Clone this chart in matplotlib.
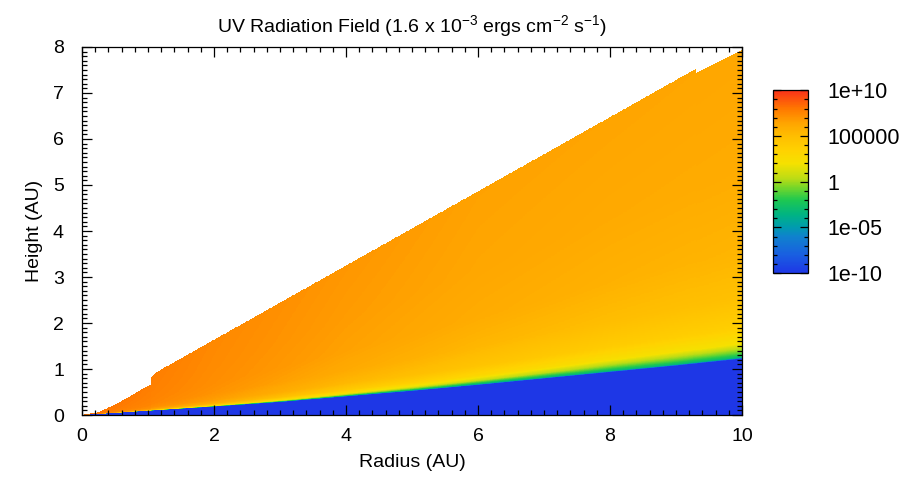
import numpy as np
import matplotlib
matplotlib.use("Agg")
import matplotlib.pyplot as plt
from matplotlib.colors import LinearSegmentedColormap, Normalize
from matplotlib.ticker import FixedLocator, MultipleLocator

plt.rcParams['font.family'] = ['Liberation Sans', 'DejaVu Sans']
plt.rcParams['mathtext.fontset'] = 'custom'
plt.rcParams['mathtext.rm'] = 'Liberation Sans'
plt.rcParams['mathtext.it'] = 'Liberation Sans'

# ---- data ----
# upper surface of the computed region (radius AU -> height AU)
surf_r = [0.0, 0.25, 0.5, 0.75, 1.0, 1.05, 1.051, 1.12, 9.3, 9.301, 10.0]
surf_h = [0.0, 0.06, 0.22, 0.42, 0.63, 0.66, 0.82, 0.92, 7.52, 7.43, 7.93]
# top of the shielded (blue) layer
shield_r = [0, 1, 2, 3, 4, 5, 6, 7, 8, 9, 10]
shield_h = [0.0, 0.09, 0.18, 0.28, 0.40, 0.52, 0.65, 0.79, 0.93, 1.07, 1.22]
# log10 of the field: rows = fractional height between shield top (0) and surface (1)
prof_t = [0.0, 0.004, 0.012, 0.025, 0.05, 0.1, 0.2, 0.35, 0.6, 1.0]
prof_r = [0, 1, 2, 4, 6, 8, 10]
prof_logF = [
    [-10, 0.0, 4.0, 6.0, 7.0, 7.5, 7.8, 8.0, 8.1, 8.2],
    [-10, -1.0, 3.0, 5.5, 6.6, 7.2, 7.5, 7.6, 7.7, 7.8],
    [-10, -3.0, 1.5, 4.0, 5.8, 6.6, 7.0, 7.2, 7.3, 7.4],
    [-10, -4.0, -0.5, 2.2, 4.0, 5.3, 6.1, 6.5, 6.7, 6.9],
    [-10, -4.0, -1.8, 0.8, 3.0, 4.5, 5.4, 6.0, 6.3, 6.5],
    [-10, -3.5, -2.0, -0.2, 2.3, 3.9, 5.0, 5.7, 6.1, 6.4],
    [-10, -3.5, -2.0, -0.5, 2.0, 3.6, 4.8, 5.5, 6.0, 6.3],
]
shield_logF = -10.0
cbar_ticks = [-10, -5, 0, 5, 10]
cbar_labels = ["1e-10", "1e-05", "1", "100000", "1e+10"]
xticks = [0, 2, 4, 6, 8, 10]
yticks = [0, 1, 2, 3, 4, 5, 6, 7, 8]

# ---- colormap ----
cm_pos = [0.0, 0.1, 0.2, 0.25, 0.32, 0.4, 0.47, 0.52, 0.6, 0.67, 0.75, 0.82, 0.9, 1.0]
cm_rgb = [(30, 55, 230), (25, 95, 225), (15, 130, 205), (0, 155, 175), (0, 180, 130),
          (30, 200, 80), (120, 215, 40), (190, 220, 20), (245, 225, 0), (255, 210, 0),
          (255, 190, 0), (255, 165, 0), (255, 120, 0), (250, 50, 25)]
cmap = LinearSegmentedColormap.from_list(
    "uv", [(p, tuple(c / 255 for c in rgb)) for p, rgb in zip(cm_pos, cm_rgb)])

# ---- build mesh ----
r_nodes = np.union1d(np.linspace(0, 10, 801), np.array(surf_r))
ht = np.interp(r_nodes, surf_r, surf_h)
hb = np.minimum(np.interp(r_nodes, shield_r, shield_h), ht)
t_low = np.linspace(0, 1, 30)
t_up = np.concatenate([np.linspace(0, 0.05, 80), np.linspace(0.05, 1, 250)[1:]])

prof = np.array(prof_logF)
P_r = np.empty((len(t_up), len(r_nodes)))
for j, tv in enumerate(t_up):
    col = np.array([np.interp(tv, prof_t, prof[k]) for k in range(len(prof_r))])
    P_r[j] = np.interp(r_nodes, prof_r, col)

Y_low = np.outer(t_low, hb)
Y_up = hb[None, :] + np.outer(t_up, ht - hb)
Y = np.vstack([Y_low, Y_up[1:]])
X = np.tile(r_nodes, (Y.shape[0], 1))
Z = np.vstack([np.full_like(Y_low, shield_logF), P_r[1:]])
Zc = 0.25 * (Z[:-1, :-1] + Z[1:, :-1] + Z[:-1, 1:] + Z[1:, 1:])

fig = plt.figure(figsize=(9.12, 4.8), dpi=100)
ax = fig.add_axes([0.0899, 0.1354, 0.7237, 0.7667])
norm = Normalize(-10, 10)
mesh = ax.pcolormesh(X, Y, Zc, cmap=cmap, norm=norm, shading='flat',
                     edgecolors='none', antialiased=False)
ax.set_xlim(0, 10)
ax.set_ylim(0, 8)
ax.set_xticks(xticks)
ax.set_yticks(yticks)
ax.xaxis.set_minor_locator(MultipleLocator(0.2))
ax.yaxis.set_minor_locator(MultipleLocator(0.1))
ax.tick_params(which='both', direction='in', top=True, right=True, width=0.9, color='black')
ax.tick_params(which='major', length=7, labelsize=14)
ax.tick_params(which='minor', length=3.5)
ax.tick_params(axis='y', which='major', pad=13)
ax.tick_params(axis='x', which='major', pad=9)
for s in ax.spines.values():
    s.set_linewidth(0.9)
ax.set_xlabel("Radius (AU)", fontsize=14, labelpad=7)
ax.set_ylabel("Height (AU)", fontsize=14, labelpad=7)
ax.set_title("UV Radiation Field (1.6 x 10$^{-3}$ ergs cm$^{-2}$ s$^{-1}$)", fontsize=14, pad=11)

cax = fig.add_axes([0.8476, 0.431, 0.0384, 0.381])
cb = fig.colorbar(mesh, cax=cax)
cb.set_ticks(cbar_ticks)
cb.set_ticklabels(cbar_labels)
cax.yaxis.set_minor_locator(FixedLocator(np.arange(-10, 11, 1)))
cax.tick_params(which='both', direction='in', left=True, right=True, color='black', width=0.9)
cax.tick_params(which='major', length=6, labelsize=15.5, pad=14)
cax.tick_params(which='minor', length=3)
cb.outline.set_linewidth(0.9)

fig.savefig("out.png", dpi=100)
